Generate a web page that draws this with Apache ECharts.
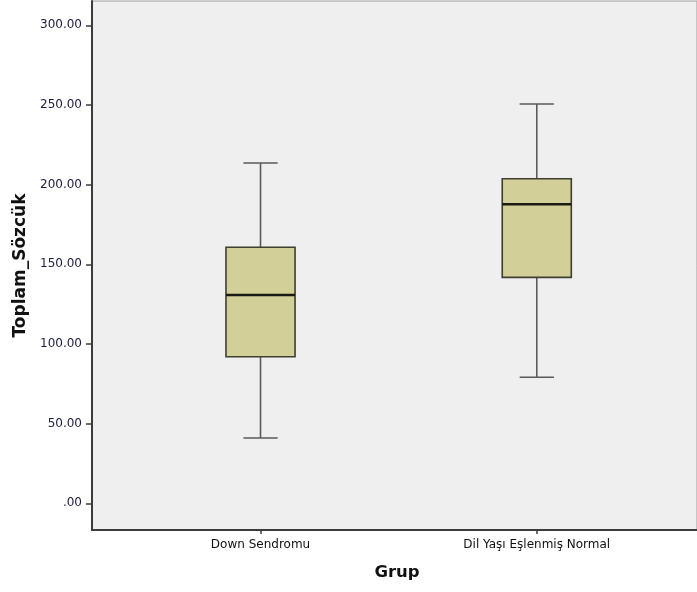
<!DOCTYPE html>
<html>
<head>
<meta charset="utf-8">
<script src="https://cdn.jsdelivr.net/npm/echarts@6/dist/echarts.min.js"></script>
<style>
  html, body { margin: 0; padding: 0; background: #ffffff; }
  #chart { width: 697px; height: 592px; }
</style>
</head>
<body>
<div id="chart"></div>
<script>
// Groups and their five-number summaries (min, Q1, median, Q3, max)
const groups = ['Down Sendromu', 'Dil Yaşı Eşlenmiş Normal'];
const whiskerLow = [41.0, 79.1];
const quartile1 = [92.0, 141.8];
const medians = [130.7, 187.7];
const quartile3 = [160.7, 203.7];
const whiskerHigh = [213.6, 250.6];
const yTicks = [0, 50, 100, 150, 200, 250, 300];

const boxData = groups.map((g, i) => [i, whiskerLow[i], quartile1[i], medians[i], quartile3[i], whiskerHigh[i]]);

const BOX_HALF = 0.125;   // half box width, in category units
const CAP_HALF = 0.062;   // half whisker cap width

function renderBox(params, api) {
  const x = api.value(0);
  const lo = api.coord([x, api.value(1)]);
  const q1 = api.coord([x, api.value(2)]);
  const md = api.coord([x, api.value(3)]);
  const q3 = api.coord([x, api.value(4)]);
  const hi = api.coord([x, api.value(5)]);
  const bl = api.coord([x - BOX_HALF, 0])[0];
  const br = api.coord([x + BOX_HALF, 0])[0];
  const cl = api.coord([x - CAP_HALF, 0])[0];
  const cr = api.coord([x + CAP_HALF, 0])[0];
  const cx = lo[0];
  const whiskerStyle = { stroke: '#5a5a5a', lineWidth: 1.6 };
  return {
    type: 'group',
    children: [
      { type: 'line', shape: { x1: cx, y1: q3[1], x2: cx, y2: hi[1] }, style: whiskerStyle },
      { type: 'line', shape: { x1: cx, y1: q1[1], x2: cx, y2: lo[1] }, style: whiskerStyle },
      { type: 'line', shape: { x1: cl, y1: hi[1], x2: cr, y2: hi[1] }, style: whiskerStyle },
      { type: 'line', shape: { x1: cl, y1: lo[1], x2: cr, y2: lo[1] }, style: whiskerStyle },
      { type: 'rect', shape: { x: bl, y: q3[1], width: br - bl, height: q1[1] - q3[1] },
        style: { fill: '#d3cf98', stroke: '#3f3f30', lineWidth: 1.6 } },
      { type: 'line', shape: { x1: bl, y1: md[1], x2: br, y2: md[1] },
        style: { stroke: '#1a1a14', lineWidth: 2.6 } }
    ]
  };
}

const chart = echarts.init(document.getElementById('chart'), null, { renderer: 'canvas' });
chart.setOption({
  animation: false,
  backgroundColor: '#ffffff',
  grid: {
    left: 92, right: 0, top: 1, bottom: 62,
    show: true, backgroundColor: '#efefef', borderColor: '#9c9c9c', borderWidth: 1,
    containLabel: false
  },
  xAxis: {
    type: 'value',
    min: -0.61, max: 1.58,
    splitLine: { show: false },
    axisLine: { show: true, onZero: false, lineStyle: { color: '#3c3c3c', width: 2 } },
    axisTick: { show: true, customValues: [0, 1], length: 4, lineStyle: { color: '#3c3c3c', width: 1.5 } },
    axisLabel: {
      customValues: [0, 1],
      formatter: v => groups[Math.round(v)] || '',
      color: '#111', fontFamily: 'DejaVu Sans', fontSize: 12, margin: 9
    },
    name: 'Grup', nameLocation: 'middle', nameGap: 34,
    nameTextStyle: { fontFamily: 'DejaVu Sans', fontSize: 16.5, fontWeight: 'bold', color: '#111', padding: [0, 0, 0, 5] }
  },
  yAxis: {
    type: 'value',
    min: -16.76, max: 315.25,
    splitLine: { show: false },
    axisLine: { show: true, onZero: false, lineStyle: { color: '#3c3c3c', width: 2 } },
    axisTick: { show: true, customValues: yTicks, length: 6, lineStyle: { color: '#3c3c3c', width: 1.5 } },
    axisLabel: {
      customValues: yTicks,
      formatter: v => v === 0 ? '.00' : v.toFixed(2),
      color: '#1c1c3c', fontFamily: 'DejaVu Sans', fontSize: 12, margin: 10
    },
    name: 'Toplam_Sözcük', nameLocation: 'middle', nameGap: 63, nameRotate: 90,
    nameTextStyle: { fontFamily: 'DejaVu Sans', fontSize: 17, fontWeight: 'bold', color: '#111' }
  },
  series: [{
    type: 'custom',
    renderItem: renderBox,
    encode: { x: 0, y: [1, 2, 3, 4, 5] },
    data: boxData,
    clip: false
  }]
});
</script>
</body>
</html>
